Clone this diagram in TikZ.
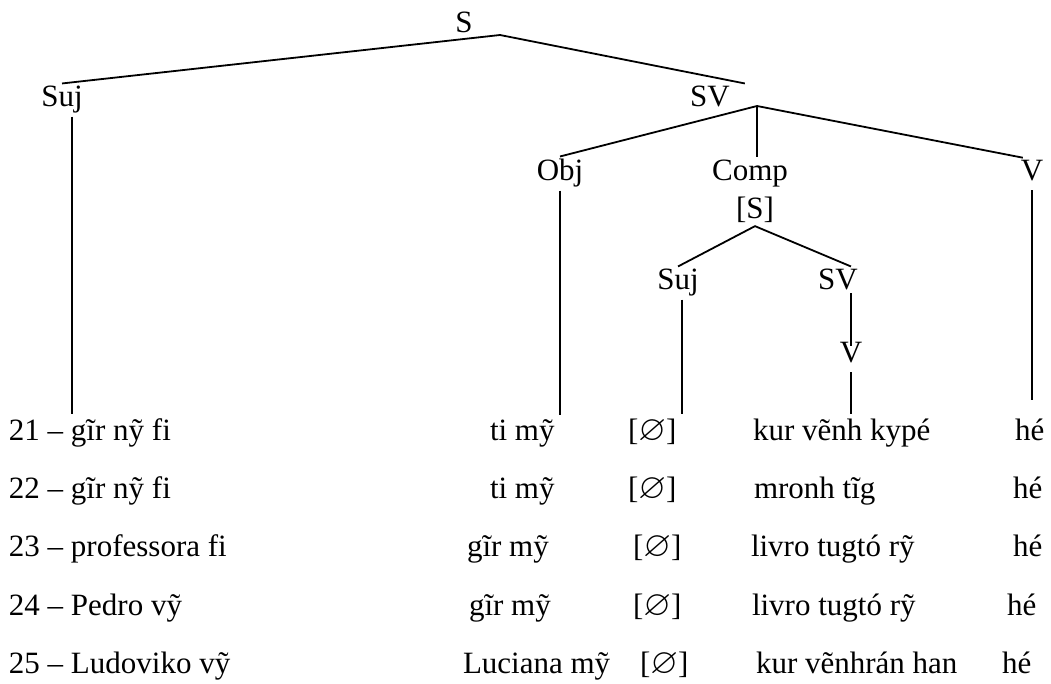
\documentclass[tikz,border=0pt]{standalone}
\usepackage{amssymb}
\usepackage{fontspec}
\setmainfont{Liberation Serif}
\newcommand{\nullsym}{\scalebox{1.15}{$\varnothing$}}

\tikzset{
  lbl/.style={font=\fontsize{15.5}{18}\selectfont, inner sep=1.5pt, outer sep=0pt, anchor=base},
  word/.style={font=\fontsize{15.5}{18}\selectfont, inner xsep=0pt, inner ysep=2.5pt, outer sep=0pt, anchor=base west},
  branch/.style={line width=0.9pt}
}

\begin{document}
\begin{tikzpicture}[x=0.5pt,y=-0.5pt]
    \useasboundingbox (0,0) rectangle (1051,684);

    % Tree labels
    \node[lbl] (s) at (464,33) {S};
    \node[lbl] (suj) at (62,107) {Suj};
    \node[lbl] (sv) at (710,107) {SV};
    \node[lbl] (obj) at (560,181) {Obj};
    \node[lbl] (comp) at (750,181) {Comp};
    \node[lbl] (v) at (1032,181) {V};
    \node[lbl] (cs) at (755,219) {[S]};
    \node[lbl] (csuj) at (678,290) {Suj};
    \node[lbl] (csv) at (838,290) {SV};
    \node[lbl] (cv) at (851,363) {V};
    \coordinate (sfork) at (500,35);
    \coordinate (svfork) at (757,106);

    % Example sentences
    \node[word] (a21) at (9,441) {21 – gĩr nỹ fi};
    \node[word] (b21) at (490,441) {ti mỹ};
    \node[word] (c21) at (628,441) {[\nullsym]};
    \node[word] (d21) at (753,441) {kur vẽnh kypé};
    \node[word] (e21) at (1015,441) {hé};

    \node[word] (a22) at (9,499) {22 – gĩr nỹ fi};
    \node[word] (b22) at (490,499) {ti mỹ};
    \node[word] (c22) at (628,499) {[\nullsym]};
    \node[word] (d22) at (754,499) {mronh tĩg};
    \node[word] (e22) at (1013,499) {hé};

    \node[word] (a23) at (9,557) {23 – professora fi};
    \node[word] (b23) at (467,557) {gĩr mỹ};
    \node[word] (c23) at (633,557) {[\nullsym]};
    \node[word] (d23) at (751,557) {livro tugtó rỹ};
    \node[word] (e23) at (1013,557) {hé};

    \node[word] (a24) at (9,616) {24 – Pedro vỹ};
    \node[word] (b24) at (469,616) {gĩr mỹ};
    \node[word] (c24) at (633,616) {[\nullsym]};
    \node[word] (d24) at (752,616) {livro tugtó rỹ};
    \node[word] (e24) at (1007,616) {hé};

    \node[word] (a25) at (9,674) {25 – Ludoviko vỹ};
    \node[word] (b25) at (463,674) {Luciana mỹ};
    \node[word] (c25) at (640,674) {[\nullsym]};
    \node[word] (d25) at (756,674) {kur vẽnhrán han};
    \node[word] (e25) at (1002,674) {hé};

    % Branches
    \draw[branch] (suj.north) -- (sfork) -- ([xshift=6pt]sv.north east);
    \draw[branch] (obj.north) -- (svfork) -- ([xshift=2.5pt]v.north west);
    \draw[branch] (svfork) -- (svfork |- comp.north);
    \draw[branch] ([xshift=5pt]suj.south) -- ([xshift=5pt]suj.south |- a21.north);
    \draw[branch] (obj.south) -- (obj.south |- b21.north);
    \draw[branch, shorten <=3pt, shorten >=7pt] (v.south) -- (v.south |- e21.north);
    \draw[branch] (csuj.north) -- (cs.south) -- (cv.north |- csv.north);
    \draw[branch] ([xshift=2pt]csuj.south) -- ([xshift=2pt]csuj.south |- c21.north);
    \draw[branch, shorten >=-3pt] (cv.north |- csv.south) -- (cv.north);
    \draw[branch, shorten <=3pt] (cv.south) -- (cv.south |- d21.north);
\end{tikzpicture}
\end{document}
